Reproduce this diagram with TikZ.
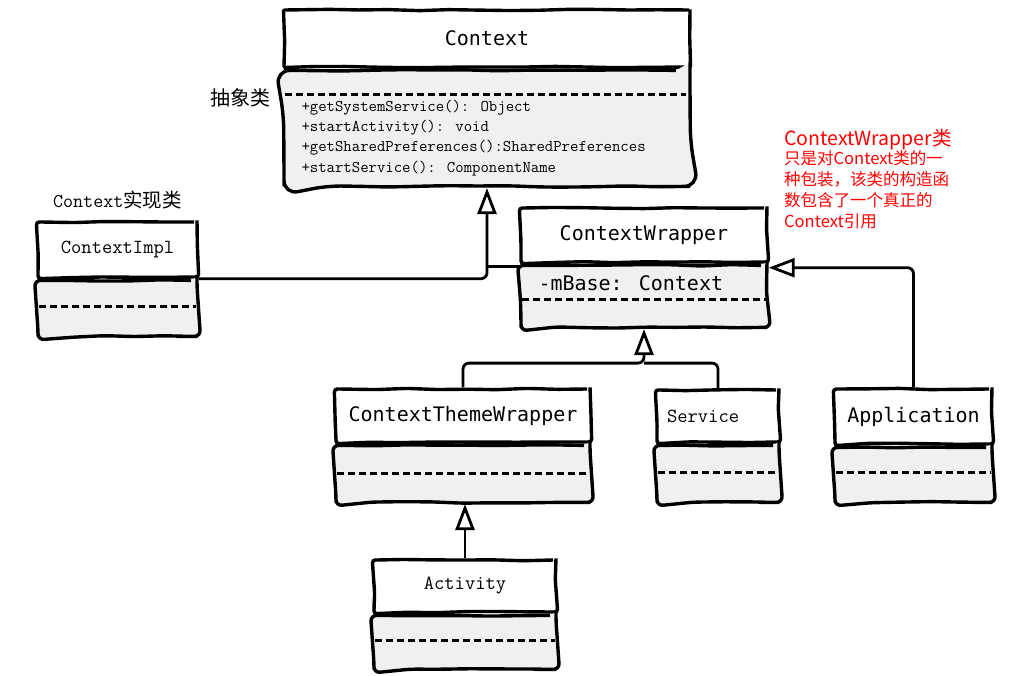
\documentclass[tikz,border=0pt]{standalone}
\usepackage{fontspec}
\newfontfamily\cjk{Noto Sans CJK SC}
\newfontfamily\consolas{DejaVu Sans Mono}
\usetikzlibrary{positioning,calc,arrows.meta,decorations.pathmorphing}
\definecolor{boxgray}{RGB}{240,240,240}
\definecolor{notered}{RGB}{255,0,0}
\newcommand{\hname}[1]{{\consolas\fontsize{20}{24}\selectfont #1}}
\newcommand{\sname}[1]{{\ttfamily\fontsize{20}{22}\selectfont #1}}

\begin{document}
\begin{tikzpicture}[x=1pt,y=-1pt,>={Triangle[open,length=26pt,width=19pt]}]
\tikzstyle{sketchy}=[decorate,decoration={random steps,segment length=30pt,amplitude=0.8pt}]
\tikzstyle{classhead}=[draw,line width=3.4pt,fill=white,rounded corners=3pt,inner sep=0pt,sketchy]
\tikzstyle{classbody}=[draw,line width=3.4pt,fill=boxgray,rounded corners=6pt,inner sep=0pt,sketchy]
\tikzstyle{dashsep}=[line width=2.8pt,dash pattern=on 7pt off 4pt]
\tikzstyle{extends}=[line width=2.8pt,rounded corners=6pt,->]
\useasboundingbox (0,0) rectangle (1020,676);

% Context
\node[classhead,rounded corners=1pt,minimum width=406pt,minimum height=57pt] (ctxhead) at (487,38.5) {\hname{Context}};
\node[classbody,rounded corners=14pt,minimum width=406pt,minimum height=116pt,below=0pt of ctxhead] (ctxbody) {};
\draw[dashsep] ([xshift=3pt,yshift=-26pt]ctxbody.north west) -- ([xshift=-6pt,yshift=-26pt]ctxbody.north east);
\node[anchor=north west,inner sep=0pt,align=left,font=\ttfamily\fontsize{16.3}{20.3}\selectfont] (ctxops)
  at ([xshift=19pt,yshift=-31pt]ctxbody.north west)
  {+getSystemService(): Object\\+startActivity(): void\\+getSharedPreferences():SharedPreferences\\+startService(): ComponentName};
\node[anchor=east,inner sep=0pt,font=\cjk\fontsize{20}{24}\selectfont] (abstr) at ([xshift=-12pt,yshift=-29pt]ctxbody.north west) {抽象类};

% ContextImpl
\node[classhead,minimum width=159pt,minimum height=55pt] (implhead) at (117.5,249.5) {\sname{ContextImpl}};
\node[classbody,minimum width=159pt,minimum height=56pt,below=0pt of implhead] (implbody) {};
\draw[dashsep] ([xshift=3pt,yshift=-28pt]implbody.north west) -- ([xshift=-3pt,yshift=-28pt]implbody.north east);
\node[above=8pt of implhead] (impllbl) {{\ttfamily\fontsize{19.5}{22}\selectfont Context}{\cjk\fontsize{19.5}{22}\selectfont 实现类}};

% ContextWrapper
\node[classhead,minimum width=246pt,minimum height=54pt] (wraphead) at (644,235) {\hname{ContextWrapper}};
\node[classbody,minimum width=246pt,minimum height=62pt,below=0pt of wraphead] (wrapbody) {};
\node[anchor=west,inner sep=0pt] (mbase) at ([xshift=19pt,yshift=-20pt]wrapbody.north west) {\hname{-mBase: Context}};
\draw[dashsep] ([xshift=3pt,yshift=-36pt]wrapbody.north west) -- ([xshift=-3pt,yshift=-36pt]wrapbody.north east);

% subclasses
\node[classhead,minimum width=254pt,minimum height=53pt] (themehead) at (463,415.5) {\hname{ContextThemeWrapper}};
\node[classbody,minimum width=254pt,minimum height=57pt,below=0pt of themehead] (themebody) {};
\draw[dashsep] ([xshift=3pt,yshift=-30pt]themebody.north west) -- ([xshift=-3pt,yshift=-30pt]themebody.north east);

\node[classhead,minimum width=122pt,minimum height=52pt,inner xsep=10pt,text width=102pt,align=left] (servhead) at (718,416) {\sname{Service}};
\node[classbody,minimum width=122pt,minimum height=57pt,below=0pt of servhead] (servbody) {};
\draw[dashsep] ([xshift=3pt,yshift=-29pt]servbody.north west) -- ([xshift=-3pt,yshift=-29pt]servbody.north east);

\node[classhead,minimum width=157pt,minimum height=55pt] (apphead) at (913.5,416.5) {\hname{Application}};
\node[classbody,minimum width=157pt,minimum height=55pt,below=0pt of apphead] (appbody) {};
\draw[dashsep] ([xshift=3pt,yshift=-27pt]appbody.north west) -- ([xshift=-3pt,yshift=-27pt]appbody.north east);

\node[classhead,minimum width=182pt,minimum height=52pt] (acthead) at (465,586) {\sname{Activity}};
\node[classbody,minimum width=182pt,minimum height=54pt,below=0pt of acthead] (actbody) {};
\draw[dashsep] ([xshift=3pt,yshift=-27pt]actbody.north west) -- ([xshift=-3pt,yshift=-27pt]actbody.north east);

% note
\node[anchor=west,inner sep=0pt,text=notered,font=\cjk\fontsize{19.5}{22}\selectfont] (notetitle) at (784,140) {ContextWrapper类};
\node[anchor=north west,inner sep=0pt,align=left,text=notered,font=\cjk\fontsize{16.5}{21}\selectfont] (notebody)
  at (784,150) {只是对Context类的一\\种包装，该类的构造函\\数包含了一个真正的\\Context引用};

% inheritance
\coordinate (jn) at (ctxbody.south |- wrapbody.north west);
\coordinate (split) at ($(wrapbody.south)+(0,34)$);
\draw[extends] (implhead.south east) -| (ctxbody.south);
\draw[line width=2.8pt] ([yshift=-3pt]wrapbody.north west) -- ([yshift=-3pt]jn);
\draw[extends] (themehead.north) |- (split) -- (wrapbody.south);
\draw[line width=2.8pt,rounded corners=6pt] (servhead.north) |- (split);
\draw[extends] (apphead.north) |- ([yshift=-4pt]wrapbody.north east);
\draw[extends] (acthead.north) -- (acthead.north |- themebody.south);
\end{tikzpicture}
\end{document}
